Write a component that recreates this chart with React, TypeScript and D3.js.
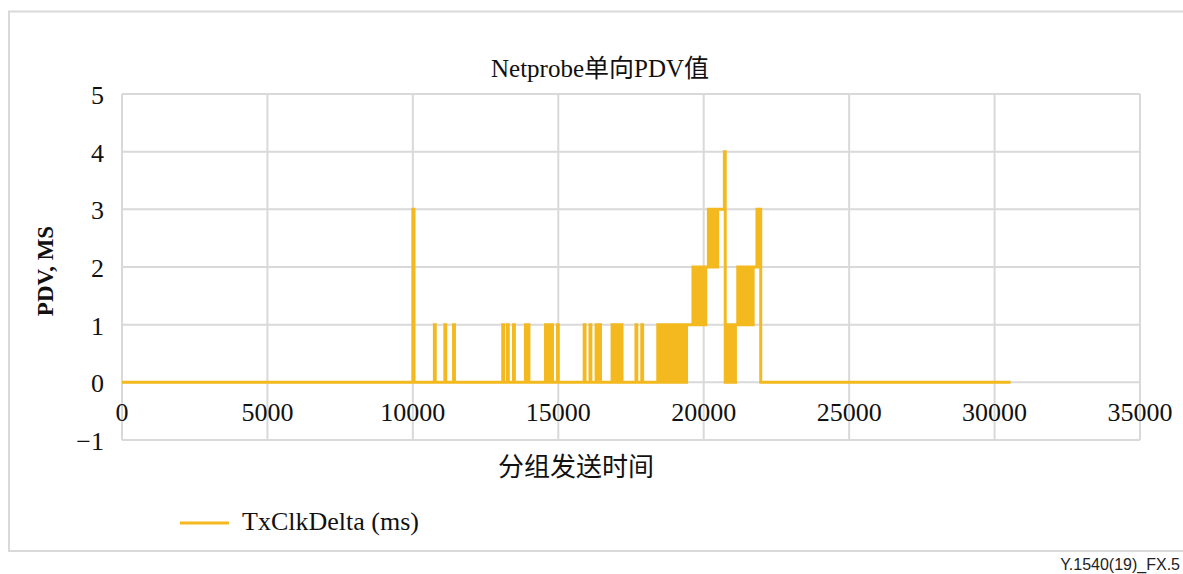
import React from "react";
import * as d3 from "d3";

const chartTitle = "Netprobe单向PDV值";
const xAxisTitle = "分组发送时间";
const yAxisTitle = "PDV, MS";
const seriesName = "TxClkDelta (ms)";
const footerText = "Y.1540(19)_FX.5";

const xTicks = [0, 5000, 10000, 15000, 20000, 25000, 30000, 35000];
const yTicks = [-1, 0, 1, 2, 3, 4, 5];

// step data: [send time (ms), PDV (ms)] — value holds until the next time
const pdvSteps: [number, number][] = [
  [0, 0],
  [10000, 3], [10040, 0],
  [10740, 1], [10770, 0],
  [11100, 1], [11130, 0],
  [11400, 1], [11430, 0],
  [13090, 1], [13120, 0],
  [13250, 1], [13280, 0],
  [13460, 1], [13490, 0],
  [13870, 1], [13920, 0], [13950, 1], [13990, 0],
  [14560, 1], [14590, 0],
  [14660, 1], [14690, 0],
  [14770, 1], [14800, 0],
  [14970, 1], [15000, 0],
  [15890, 1], [15920, 0],
  [16090, 1], [16120, 0],
  [16300, 1], [16360, 0], [16400, 1], [16450, 0],
  [16850, 1], [16910, 0], [16960, 1], [17020, 0], [17070, 1], [17130, 0], [17160, 1], [17190, 0],
  [17670, 1], [17700, 0],
  [17870, 1], [17900, 0],
  [18420, 1], [18440, 0],
  [18470, 1], [18500, 0],
  [18560, 1], [18620, 0], [18670, 1], [18730, 0], [18780, 1], [18840, 0],
  [18890, 1], [18950, 0], [19000, 1], [19060, 0], [19110, 1], [19170, 0],
  [19220, 1], [19280, 0], [19330, 1], [19370, 0], [19410, 1],
  [19630, 2], [19690, 1], [19740, 2], [19800, 1], [19850, 2], [19910, 1],
  [19960, 2], [20020, 1], [20070, 2],
  [20160, 3], [20220, 2], [20270, 3], [20330, 2], [20380, 3], [20440, 2], [20480, 3],
  [20710, 4], [20740, 0],
  [20780, 1], [20830, 0], [20880, 1], [20940, 0], [20990, 1], [21050, 0], [21090, 1],
  [21170, 2], [21230, 1], [21280, 2], [21340, 1], [21390, 2], [21450, 1],
  [21500, 2], [21560, 1], [21610, 2], [21670, 1], [21700, 2],
  [21830, 3], [21870, 2], [21900, 3], [21960, 0],
  [30550, 0],
];

const W = 1183;
const H = 574;
const plot = { left: 122, right: 1140, top: 94, bottom: 440 };
const gridColor = "#d9d9d9";
const lineColor = "#F3B91F";
const serif = "'Liberation Serif', 'Times New Roman', 'Noto Sans CJK SC', serif";
const cjk = "'Liberation Serif', 'Noto Sans CJK SC', serif";

export default function App() {
  const x = d3.scaleLinear().domain([0, 35000]).range([plot.left, plot.right]);
  const y = d3.scaleLinear().domain([-1, 5]).range([plot.bottom, plot.top]);
  const line = d3
    .line<[number, number]>()
    .x((d) => x(d[0]))
    .y((d) => y(d[1]))
    .curve(d3.curveStepAfter);

  return (
    <svg
      width={W}
      height={H}
      style={{ position: "absolute", left: 0, top: 0, background: "#fff", overflow: "hidden" }}
    >
      <rect x={0} y={0} width={W} height={H} fill="#fff" />
      {/* outer chart border */}
      <rect x={9} y={11.5} width={1200} height={539.5} fill="none" stroke={gridColor} strokeWidth={2} />

      {/* grid */}
      {xTicks.map((t) => (
        <line key={"gx" + t} x1={x(t)} x2={x(t)} y1={plot.top} y2={plot.bottom} stroke={gridColor} strokeWidth={2} />
      ))}
      {yTicks.map((t) => (
        <line key={"gy" + t} x1={plot.left} x2={plot.right} y1={y(t)} y2={y(t)} stroke={gridColor} strokeWidth={2} />
      ))}

      {/* series */}
      <path d={line(pdvSteps) || ""} fill="none" stroke={lineColor} strokeWidth={3} strokeLinejoin="miter" />

      {/* y tick labels */}
      {yTicks.map((t) => (
        <text key={"ly" + t} x={104} y={y(t) + 10} textAnchor="end" fontFamily={serif} fontSize={26} fill="#111">
          {t < 0 ? "\u2212" + Math.abs(t) : t}
        </text>
      ))}
      {/* x tick labels */}
      {xTicks.map((t) => (
        <text key={"lx" + t} x={x(t)} y={y(0) + 39} textAnchor="middle" fontFamily={serif} fontSize={26} fill="#111">
          {t}
        </text>
      ))}

      {/* title */}
      <text x={600} y={77} textAnchor="middle" fontFamily={cjk} fontSize={25} fill="#111">
        {chartTitle}
      </text>
      {/* axis titles */}
      <text
        transform={`translate(53, 271) rotate(-90)`}
        textAnchor="middle"
        fontFamily={serif}
        fontWeight="bold"
        fontSize={23}
        fill="#111"
      >
        {yAxisTitle}
      </text>
      <text x={576} y={476} textAnchor="middle" fontFamily={cjk} fontSize={26} fill="#111">
        {xAxisTitle}
      </text>

      {/* legend */}
      <line x1={180} x2={229} y1={523} y2={523} stroke={lineColor} strokeWidth={3} />
      <text x={242} y={530} fontFamily={serif} fontSize={26} fill="#111">
        {seriesName}
      </text>

      {/* footer */}
      <text x={1180} y={570} textAnchor="end" fontFamily="'Liberation Sans', Arial, sans-serif" fontSize={16} fill="#222">
        {footerText}
      </text>
    </svg>
  );
}
